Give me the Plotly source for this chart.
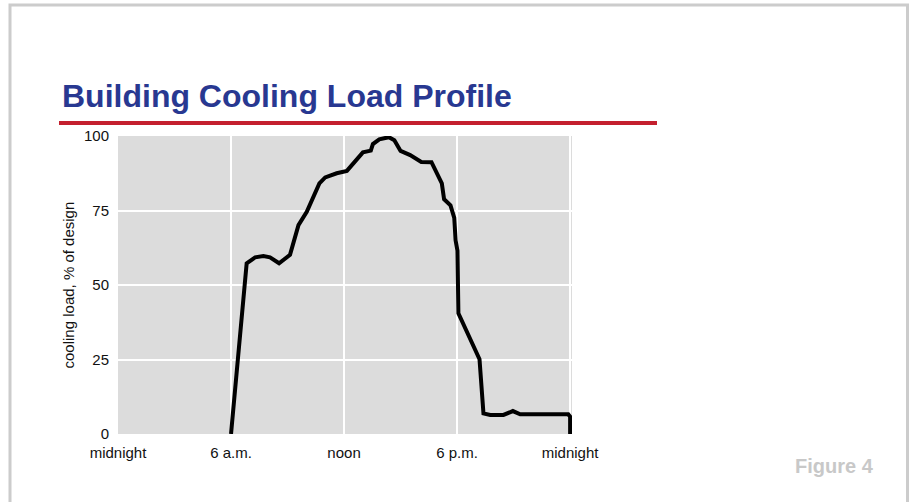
import plotly.graph_objects as go

# hours after midnight and cooling load (% of design)
hours = [6.0, 6.83, 7.28, 7.72, 8.07, 8.55, 9.13, 9.58, 10.02, 10.69, 11.0,
         11.61, 12.15, 13.0, 13.42, 13.53, 13.87, 14.38, 14.67, 15.0, 15.51,
         16.1, 16.64, 17.19, 17.31, 17.65, 17.85, 17.92, 18.02, 18.07, 19.19,
         19.26, 19.40, 19.76, 20.46, 20.96, 21.35, 23.9, 24.0, 24.0]
load = [0, 57.3, 59.3, 59.7, 59.3, 57.3, 60.1, 70.1, 74.6, 84.1, 86.1,
        87.5, 88.3, 94.5, 95.1, 97.3, 98.9, 99.6, 98.6, 95.0, 93.6,
        91.3, 91.2, 84.1, 78.8, 76.7, 72.5, 65.0, 61.5, 40.5, 25.1,
        18.1, 6.9, 6.4, 6.4, 7.7, 6.6, 6.6, 5.8, 0]

x_ticks = [0, 6, 12, 18, 24]
x_labels = ["midnight", "6 a.m.", "noon", "6 p.m.", "midnight"]
y_ticks = [0, 25, 50, 75, 100]

W, H = 911, 502
L, R, T, B = 118, 339, 136, 68
pw, ph = W - L - R, H - T - B


def px(x):
    return (x - L) / pw


def py(y):
    return (H - B - y) / ph


font = "Liberation Sans, Arial, sans-serif"

fig = go.Figure()
fig.add_trace(go.Scatter(
    x=hours, y=load, mode="lines",
    line=dict(color="black", width=4),
    hoverinfo="skip", showlegend=False,
))

fig.update_layout(
    width=W, height=H,
    margin=dict(l=L, r=R, t=T, b=B, pad=0),
    paper_bgcolor="white",
    plot_bgcolor="#dcdcdc",
    font=dict(family=font, size=15, color="#111111"),
    xaxis=dict(
        range=[0, 24.1], tickvals=x_ticks, ticktext=x_labels,
        showgrid=True, gridcolor="white", gridwidth=1.5,
        zeroline=False, showline=False,
        ticks="outside", ticklen=5, tickcolor="rgba(0,0,0,0)",
        fixedrange=True,
    ),
    yaxis=dict(
        range=[0, 100], tickvals=y_ticks,
        showgrid=True, gridcolor="white", gridwidth=1.5,
        zeroline=False, showline=False,
        ticks="outside", ticklen=5, tickcolor="rgba(0,0,0,0)",
        fixedrange=True,
    ),
    shapes=[
        # outer frame
        dict(type="rect", xref="paper", yref="paper",
             x0=px(10), x1=px(907.5), y0=py(5), y1=py(520),
             line=dict(color="#cccccc", width=3), layer="below"),
        # red rule under the title
        dict(type="line", xref="paper", yref="paper",
             x0=px(59), x1=px(657), y0=py(123), y1=py(123),
             line=dict(color="#c4202e", width=4)),
    ],
    annotations=[
        dict(text="<b>Building Cooling Load Profile</b>", xref="paper", yref="paper",
             x=px(60), y=py(96), xanchor="left", yanchor="middle", showarrow=False,
             font=dict(family=font, size=32, color="#283891")),
        dict(text="cooling load, % of design", xref="paper", yref="paper",
             x=px(67.5), y=py(285), xanchor="center", yanchor="middle",
             textangle=-90, showarrow=False,
             font=dict(family=font, size=15, color="#111111")),
        dict(text="<b>Figure 4</b>", xref="paper", yref="paper",
             x=px(876), y=py(466), xanchor="right", yanchor="middle", showarrow=False,
             font=dict(family=font, size=20, color="#c8c8c8")),
    ],
)

# drop the page's default body margin so the figure sits at the window origin
fig.write_html("out.html",
               config={"displayModeBar": False},
               post_script="document.body.style.margin='0';document.body.style.overflow='hidden';")
